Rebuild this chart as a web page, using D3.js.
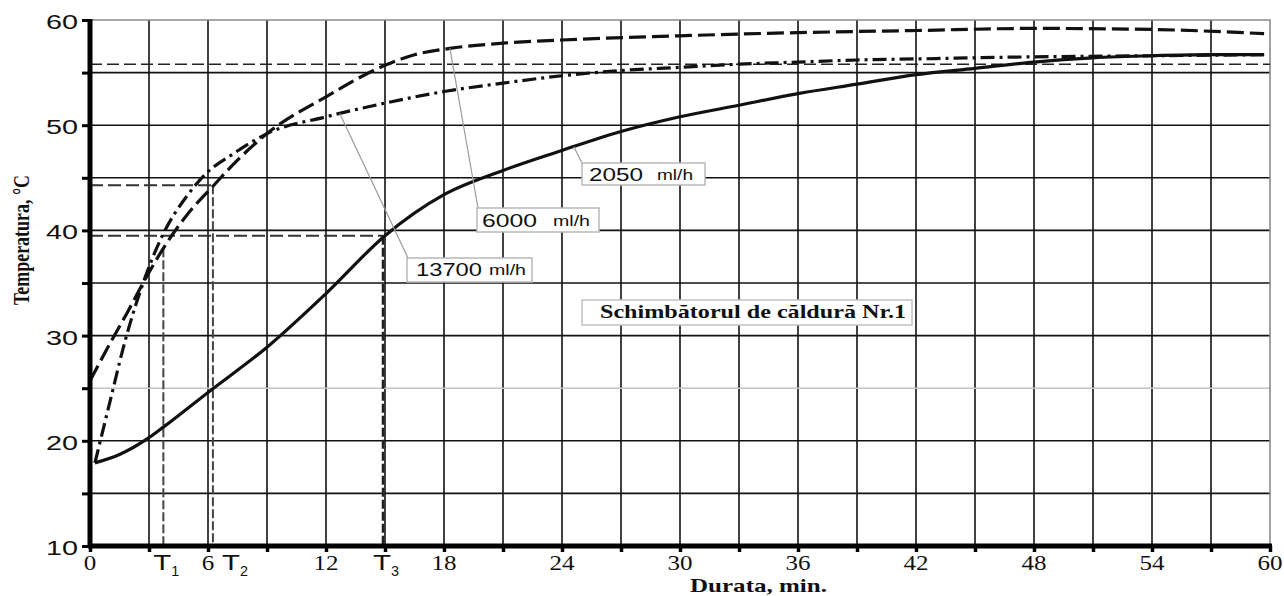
<!DOCTYPE html>
<html>
<head>
<meta charset="utf-8">
<script src="https://cdn.jsdelivr.net/npm/d3@7"></script>
<style>
body { margin: 0; background: #fff; }
</style>
</head>
<body>
<div id="chart"></div>
<script>
// values: durata (min) and temperatura (°C)
var durata2050 = [0.25, 1.5, 3, 3.73, 6, 9, 12, 15, 18, 21, 24, 27, 30, 33, 36, 39, 42, 45, 48, 51, 54, 57, 59.7];
var temp2050 = [17.9, 18.7, 20.3, 21.3, 24.6, 28.9, 34.0, 39.5, 43.4, 45.7, 47.6, 49.4, 50.8, 51.9, 53.0, 53.9, 54.8, 55.4, 56.0, 56.4, 56.6, 56.7, 56.7];

var durata6000 = [0, 1, 1.9, 2.7, 3.73, 4.9, 6.25, 7.3, 9, 12, 15, 16.5, 18.3, 21, 24, 30, 36, 42, 48, 54, 59.7];
var temp6000 = [25.7, 29.2, 32.2, 35.0, 38.3, 41.4, 44.2, 46.3, 49.2, 52.7, 55.7, 56.7, 57.3, 57.8, 58.1, 58.5, 58.8, 59.0, 59.2, 59.1, 58.7];

var durata13700 = [0.25, 1, 1.8, 2.7, 3.73, 4.9, 5.9, 7.3, 9, 12, 15, 18, 21, 24, 27, 30, 33, 36, 39, 42, 48, 54, 59.7];
var temp13700 = [17.9, 23.6, 29.6, 35.0, 39.7, 43.2, 45.4, 47.3, 49.2, 50.8, 52.1, 53.2, 54.0, 54.7, 55.2, 55.5, 55.8, 56.0, 56.2, 56.3, 56.5, 56.6, 56.7];

var yTickLabels = [10, 20, 30, 40, 50, 60];
var yGrid = [15, 20, 25, 30, 35, 40, 45, 50, 55];
var xGrid = [3, 6, 9, 12, 15, 18, 21, 24, 27, 30, 33, 36, 39, 42, 45, 48, 51, 54, 57];
var xTickLabels = [0, 6, 12, 18, 24, 30, 36, 42, 48, 54, 60];

// T1, T2, T3 marks and the levels they are read at
var tNames = ["1", "2", "3"];
var tDurata = [3.73, 6.25, 14.9];
var tTemp = [38.3, 44.3, 39.5];
var tHasLevel = [false, true, true];
var refLevel = 55.8;

var seriesNames = ["2050", "6000", "13700"];
var pointAt = [24.6, 18.3, 12.7]; // where the callout line touches its curve

var W = 1284, H = 596;
var SERIF = "'Liberation Serif','Times New Roman',serif";
var SANS = "'Liberation Sans',Arial,sans-serif";

var svg = d3.select("#chart").append("svg")
  .attr("width", W)
  .attr("height", H);

var x = d3.scaleLinear().domain([0, 60]).range([90, 1270]);
var y = d3.scaleLinear().domain([10, 60]).range([546, 20]);

function interp(ts, vs, t) {
  for (var i = 1; i < ts.length; i++) {
    if (t <= ts[i]) {
      var k = (t - ts[i - 1]) / (ts[i] - ts[i - 1]);
      return vs[i - 1] + k * (vs[i] - vs[i - 1]);
    }
  }
  return vs[vs.length - 1];
}

// text squeezed/stretched to a fixed width (the original is stretched sideways)
function fitText(g, str, x0, y0, size, len, family, weight) {
  return g.append("text")
    .attr("x", x0)
    .attr("y", y0)
    .attr("font-family", family)
    .attr("font-size", size)
    .attr("font-weight", weight || "normal")
    .attr("textLength", len)
    .attr("lengthAdjust", "spacingAndGlyphs")
    .attr("fill", "#111")
    .text(str);
}

// grid
svg.append("g")
  .selectAll("line")
  .data(xGrid)
  .enter()
  .append("line")
  .attr("x1", function(d) { return x(d); })
  .attr("x2", function(d) { return x(d); })
  .attr("y1", y(10))
  .attr("y2", y(60))
  .attr("stroke", "#111")
  .attr("stroke-width", 1.6);

svg.append("g")
  .selectAll("line")
  .data(yGrid)
  .enter()
  .append("line")
  .attr("x1", x(0))
  .attr("x2", x(60))
  .attr("y1", function(d) { return y(d); })
  .attr("y2", function(d) { return y(d); })
  .attr("stroke", function(d) { return d == 25 ? "#c4c4c4" : "#111"; })
  .attr("stroke-width", 1.6);

// frame top and right
svg.append("path")
  .attr("d", "M" + x(0) + "," + y(60) + "H" + x(60) + "V" + y(10))
  .attr("fill", "none")
  .attr("stroke", "#8a8a8a")
  .attr("stroke-width", 1.6);

// reference level across the plot
svg.append("line")
  .attr("x1", x(0))
  .attr("x2", x(60))
  .attr("y1", y(refLevel))
  .attr("y2", y(refLevel))
  .attr("stroke", "#222")
  .attr("stroke-width", 1.5)
  .attr("stroke-dasharray", "12,5");

// T reading lines
tDurata.forEach(function(t, i) {
  if (tHasLevel[i]) {
    svg.append("line")
      .attr("x1", x(0))
      .attr("x2", x(t))
      .attr("y1", y(tTemp[i]))
      .attr("y2", y(tTemp[i]))
      .attr("stroke", "#333")
      .attr("stroke-width", 2)
      .attr("stroke-dasharray", "13,5");
  }
  svg.append("line")
    .attr("x1", x(t))
    .attr("x2", x(t))
    .attr("y1", y(tTemp[i]))
    .attr("y2", y(10))
    .attr("stroke", i == 2 ? "#222" : "#444")
    .attr("stroke-width", i == 2 ? 2.6 : 2)
    .attr("stroke-dasharray", "9,3");
});

// curves
var line = d3.line()
  .x(function(d) { return x(d[0]); })
  .y(function(d) { return y(d[1]); })
  .curve(d3.curveMonotoneX);

var series = [
  { t: durata2050, v: temp2050, dash: null },
  { t: durata6000, v: temp6000, dash: "17,6" },
  { t: durata13700, v: temp13700, dash: "14,5,3,5" }
];

series.forEach(function(s) {
  svg.append("path")
    .datum(d3.zip(s.t, s.v))
    .attr("d", line)
    .attr("fill", "none")
    .attr("stroke", "#111")
    .attr("stroke-width", 3.2)
    .attr("stroke-dasharray", s.dash);
});

// axes
svg.append("g")
  .attr("transform", "translate(" + x(0) + ",0)")
  .call(d3.axisLeft(y).tickValues(yGrid.concat([10, 60])).tickSize(8).tickFormat(""))
  .call(function(g) {
    g.select(".domain").remove();
    g.selectAll("line").attr("stroke", "#000").attr("stroke-width", 3);
  });

svg.append("g")
  .attr("transform", "translate(0," + y(10) + ")")
  .call(d3.axisBottom(x).tickValues(xGrid.concat([0, 60])).tickSize(6).tickFormat(""))
  .call(function(g) {
    g.select(".domain").remove();
    g.selectAll("line").attr("stroke", "#000").attr("stroke-width", 3.5);
  });

svg.append("line")
  .attr("x1", x(0))
  .attr("x2", x(0))
  .attr("y1", y(60) - 1)
  .attr("y2", y(10) + 2)
  .attr("stroke", "#000")
  .attr("stroke-width", 5);

svg.append("line")
  .attr("x1", x(0) - 2)
  .attr("x2", x(60) + 2)
  .attr("y1", y(10))
  .attr("y2", y(10))
  .attr("stroke", "#000")
  .attr("stroke-width", 5);

// tick labels
var labels = svg.append("g");
yTickLabels.forEach(function(v) {
  fitText(labels, String(v), 46, y(v) + 9, 20, 32, SANS);
});
xTickLabels.forEach(function(v) {
  var len = String(v).length * 12.5;
  fitText(labels, String(v), x(v) - len / 2, 570, 22, len, SERIF);
});
var tShift = [0, 19, 0];
tDurata.forEach(function(t, i) {
  var cx = x(t) + tShift[i];
  fitText(labels, "T", cx - 10, 570, 22, 18, SANS);
  fitText(labels, tNames[i], cx + 8, 576, 15, 8, SANS);
});

// axis titles
fitText(svg, "Durata, min.", 690, 592, 19, 137, SERIF, "bold");
svg.append("g")
  .attr("transform", "translate(29,240) scale(1.3,1) rotate(-90)")
  .call(function(g) {
    fitText(g, "Temperatura, °C", -65, 0, 17, 130, SERIF, "bold");
  });

// callouts
var boxes = [
  { x: 582, y: 163, w: 123, h: 22, from: [582, 163], num: [589, 54], unit: [657, 36], base: 181 },
  { x: 477, y: 208, w: 122, h: 24, from: [478, 208], num: [482, 55], unit: [553, 37], base: 227 },
  { x: 407, y: 258, w: 125, h: 24, from: [408, 258], num: [416, 66], unit: [489, 37], base: 276 }
];

boxes.forEach(function(b, i) {
  var s = series[i];
  var t = pointAt[i];
  svg.append("line")
    .attr("x1", b.from[0])
    .attr("y1", b.from[1])
    .attr("x2", x(t))
    .attr("y2", y(interp(s.t, s.v, t)))
    .attr("stroke", "#9a9a9a")
    .attr("stroke-width", 1.2);
  svg.append("rect")
    .attr("x", b.x)
    .attr("y", b.y)
    .attr("width", b.w)
    .attr("height", b.h)
    .attr("fill", "#fff")
    .attr("stroke", "#b8b8b8")
    .attr("stroke-width", 1.5);
  fitText(svg, seriesNames[i], b.num[0], b.base, 18, b.num[1], SANS);
  fitText(svg, "ml/h", b.unit[0], b.base - 1, 14, b.unit[1], SANS);
});

svg.append("rect")
  .attr("x", 582)
  .attr("y", 300)
  .attr("width", 330)
  .attr("height", 25)
  .attr("fill", "#fff")
  .attr("stroke", "#c0c0c0")
  .attr("stroke-width", 1.5);
fitText(svg, "Schimbătorul de căldură Nr.1", 600, 318, 19, 306, SERIF, "bold");
</script>
</body>
</html>
